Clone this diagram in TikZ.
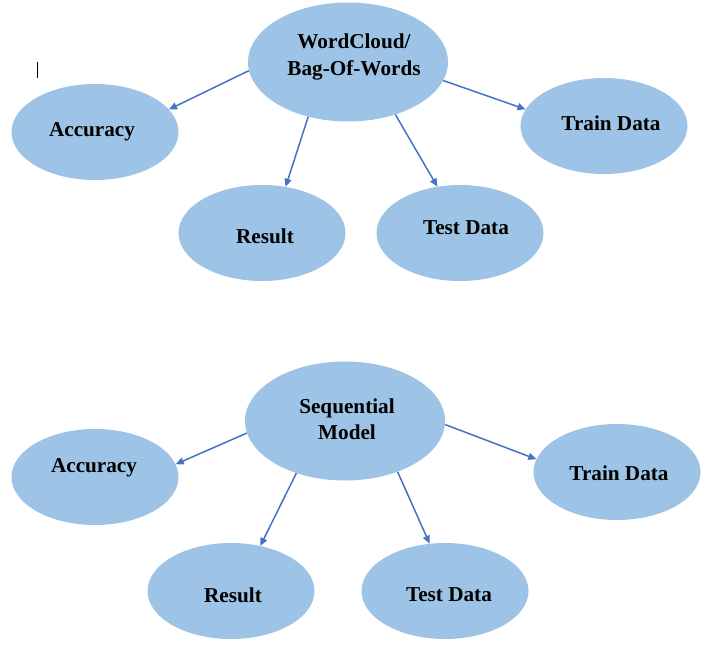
\documentclass[tikz,border=0pt]{standalone}
\usepackage{fontspec}
\setmainfont{Liberation Serif}
\usetikzlibrary{shapes.geometric,arrows.meta}
\definecolor{ellfill}{HTML}{9DC3E6}
\definecolor{arrowblue}{HTML}{4472C4}
\tikzset{
  bigell/.style={ellipse, fill=ellfill, draw=none, inner sep=0pt, minimum width=200pt, minimum height=119pt},
  smallell/.style={ellipse, fill=ellfill, draw=none, inner sep=0pt, minimum width=167pt, minimum height=96pt},
  lbl/.style={font=\fontsize{21.2}{26.5}\selectfont\bfseries, align=center, inner sep=0pt},
  conn/.style={draw=arrowblue, line width=1.5pt, -{Triangle[length=8pt,width=7pt]}}
}
\begin{document}
\begin{tikzpicture}[x=1pt,y=-1pt]
\useasboundingbox (0,0) rectangle (709,648);
% top group
\node[bigell] (wc) at (348,62) {};
\node[smallell] (acc1) at (95,132) {};
\node[smallell] (train1) at (604,126) {};
\node[smallell] (res1) at (262,233) {};
\node[smallell] (test1) at (460,233) {};
\node[lbl] (twc) at (354,57) {WordCloud/\\Bag-Of-Words};
\node[lbl] (tacc1) at (92,132) {Accuracy};
\node[lbl] (ttrain1) at (611,123) {Train Data};
\node[lbl] (tres1) at (265,236) {Result};
\node[lbl] (ttest1) at (466,228) {Test Data};
\draw[conn] (wc.185.8) -- (acc1.17.5);
\draw[conn] (wc.234.3) -- (res1.63);
\draw[conn] (wc.312.2) -- (test1.116.1);
\draw[conn] (wc.349.6) -- (train1.168.6);
% bottom group
\node[bigell] (seq) at (345,421) {};
\node[smallell] (acc2) at (95,477) {};
\node[smallell] (train2) at (617,472) {};
\node[smallell] (res2) at (231,591) {};
\node[smallell] (test2) at (445,591) {};
\node[lbl] (tseq) at (347,419) {Sequential\\Model};
\node[lbl] (tacc2) at (94,468) {Accuracy};
\node[lbl] (ttrain2) at (619,473) {Train Data};
\node[lbl] (tres2) at (233,595) {Result};
\node[lbl] (ttest2) at (449,595) {Test Data};
\draw[conn] (seq.187.6) -- (acc2.9.6);
\draw[conn] (seq.227.2) -- (res2.57.7);
\draw[conn] (seq.316.1) -- (test2.108.1);
\draw[conn] (seq.358.3) -- (train2.171.1);
% cursor mark
\coordinate (cura) at (37,62);
\coordinate (curb) at (37,78);
\draw[line width=1pt] (cura) -- (curb);
\end{tikzpicture}
\end{document}
